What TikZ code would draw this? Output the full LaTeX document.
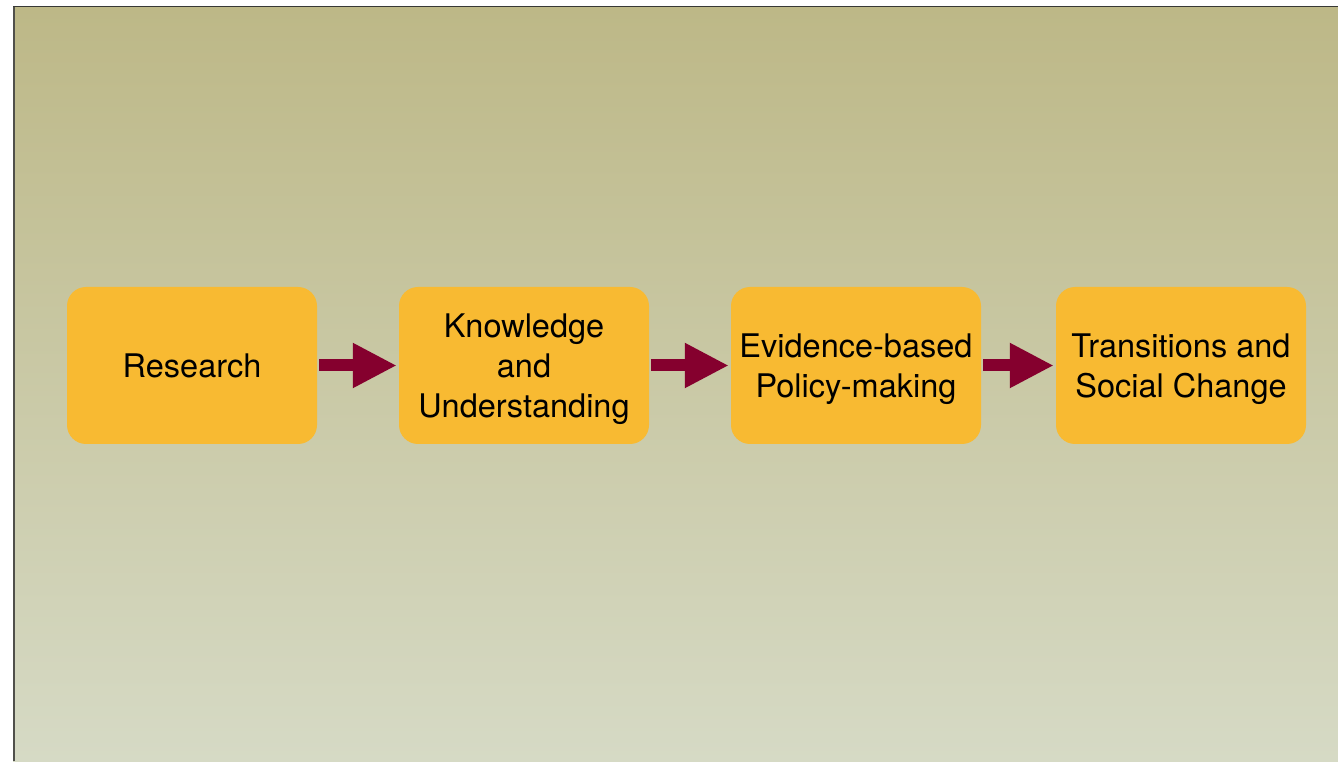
\documentclass[tikz,border=0pt]{standalone}
\usepackage{fontspec}
\setmainfont{TeX Gyre Heros}
\usetikzlibrary{arrows.meta}
\definecolor{bgtop}{RGB}{189,184,135}
\definecolor{bgbot}{RGB}{214,218,197}
\definecolor{boxfill}{RGB}{248,186,50}
\definecolor{arrowred}{RGB}{133,0,46}
\definecolor{frame}{RGB}{80,80,75}
\begin{document}
\begin{tikzpicture}[x=1pt,y=1pt,
  stepbox/.style={fill=boxfill,rounded corners=19pt,minimum width=250pt,minimum height=157pt,inner sep=0pt},
  steptext/.style={align=center,inner sep=0pt,font=\fontsize{32.5}{40}\selectfont,text=black},
  flow/.style={draw=arrowred,line width=12pt,shorten <=2pt,shorten >=2pt,
    -{Triangle[length=44pt,width=42pt]}}]
\useasboundingbox (0,0) rectangle (1338,761);
\fill[white] (0,0) rectangle (1338,761);
\shade[top color=bgtop,bottom color=bgbot] (13,0) rectangle (1338,754);
\draw[frame,line width=2.2pt] (14,0) -- (14,754);
\draw[frame!70!black,line width=1.2pt] (13,754.4) -- (1338,754.4);
\node[stepbox] (r) at (192,395.5) {};
\node[stepbox] (k) at (524,395.5) {};
\node[stepbox] (e) at (856,395.5) {};
\node[stepbox] (t) at (1181,395.5) {};
\node[steptext] (rt) at ([yshift=0pt]r.center) {Research};
\node[steptext] (kt) at ([yshift=-4pt]k.center) {Knowledge\\and\\Understanding};
\node[steptext] (et) at ([yshift=-4pt]e.center) {Evidence-based\\Policy-making};
\node[steptext] (tt) at ([yshift=-4pt]t.center) {Transitions and\\Social Change};
\draw[flow] (r) -- (k);
\draw[flow] (k) -- (e);
\draw[flow] (e) -- (t);
\end{tikzpicture}
\end{document}
